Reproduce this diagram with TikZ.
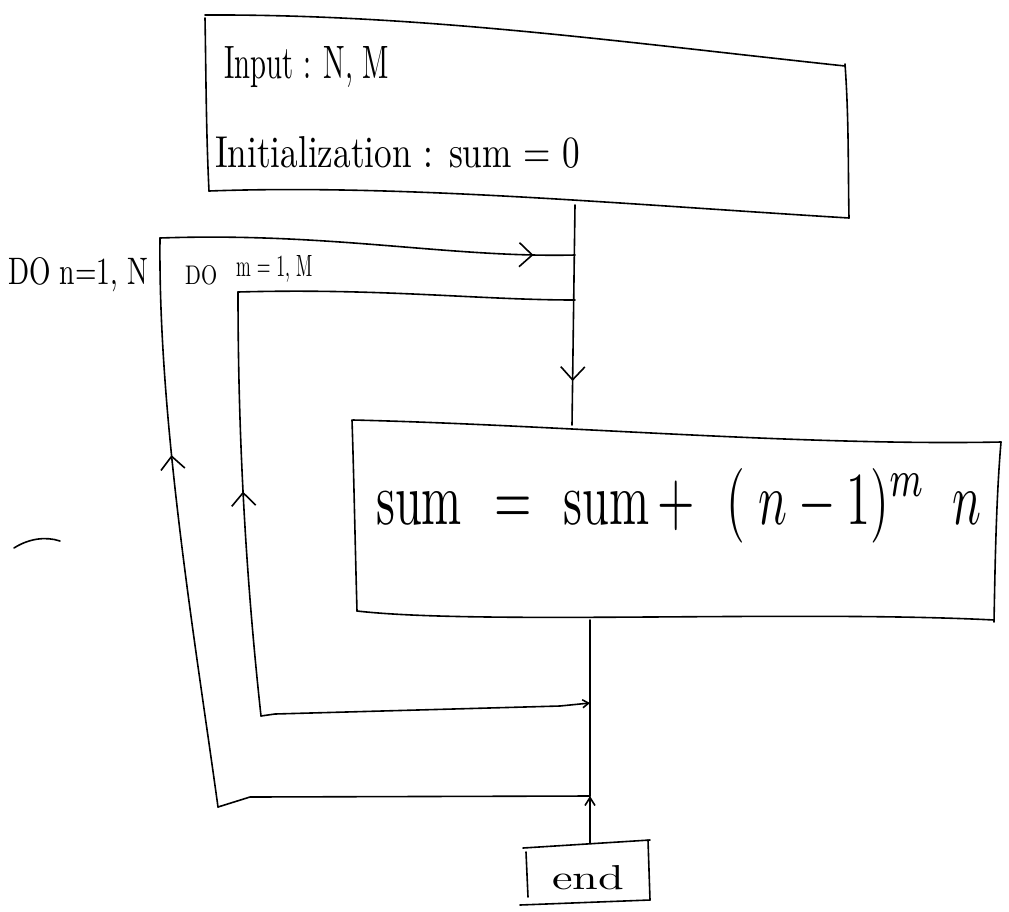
\documentclass[tikz,border=0pt]{standalone}
\usetikzlibrary{arrows.meta,decorations.markings}
\begin{document}
\begin{tikzpicture}[x=1pt,y=-1pt,
  pen/.style={line width=1.6pt, line cap=round, line join=round},
  barb/.tip={Straight Barb[length=13pt,width=24pt,line width=1.6pt]},
  midarrow/.style={postaction={decorate},
    decoration={markings, mark=at position #1 with {\arrow{barb}}}},
  txt/.style={inner sep=0pt, anchor=base west},
]
\useasboundingbox (0,0) rectangle (1009,911);

% ---- input box
\draw[pen] (205,15) .. controls (420,14) and (620,42) .. (845,66);
\draw[pen] (845,64) .. controls (849,120) and (848,170) .. (849,218);
\draw[pen] (849,218) .. controls (620,204) and (400,184) .. (209,191);
\draw[pen] (209,191) .. controls (206,130) and (206,70) .. (205,18);
\node[txt] (inp) at (224,78) {\resizebox{165pt}{32pt}{Input : N, M}};
\node[txt] (ini) at (215,167) {\resizebox{365pt}{31pt}{Initialization : sum = 0}};

% ---- update box
\draw[pen] (353,420) .. controls (560,425) and (800,446) .. (1001,442);
\draw[pen] (1001,442) .. controls (996,500) and (995,570) .. (994,622);
\draw[pen] (994,620) .. controls (800,610) and (480,625) .. (357,611);
\draw[pen] (357,611) .. controls (355,540) and (354,480) .. (352,420);
\node[txt] (upd) at (376,524)
  {\resizebox{605pt}{56pt}{sum\ \ $=$\ \ sum\,$+$\ \ $(\;n-1)^{m}\;\;n$}};

% ---- end box
\draw[pen] (523,848) -- (650,840);
\draw[pen] (526,852) -- (528,897);
\draw[pen] (520,905) -- (650,900);
\draw[pen] (648,840) -- (650,900);
\node[txt] (fin) at (552,889) {\resizebox{72pt}{24pt}{end}};

% ---- loop labels
\node[txt] (lbn) at (8,284) {\resizebox{140pt}{27pt}{DO n=1, N}};
\node[txt] (dom) at (185,284) {\resizebox{32pt}{19pt}{DO}};
\node[txt] (lbm) at (236,276) {\resizebox{76pt}{21pt}{m = 1, M}};

% ---- junction points on the flow lines
\coordinate (t1) at (575,205);
\coordinate (s1) at (572,425);
\coordinate (o1) at (160,238);
\coordinate (o2) at (575,255);
\coordinate (o3) at (218,807);
\coordinate (o4) at (590,796);
\coordinate (i1) at (238,292);
\coordinate (i2) at (575,300);
\coordinate (i3) at (261,716);
\coordinate (i4) at (590,703);
\coordinate (s2) at (590,620);
\coordinate (e1) at (590,843);

% ---- main flow
\draw[pen, midarrow=0.8] (t1) -- (s1);
\draw[pen] (s2) -- (o4);
\draw[pen, -{Straight Barb[length=8pt,width=10pt,line width=1.6pt]}] (e1) -- (o4);

% ---- outer loop
\draw[pen, midarrow=0.62] (o3) .. controls (195,640) and (158,420) .. (o1);
\draw[pen, midarrow=0.9] (o1) .. controls (330,232) and (450,258) .. (o2);
\draw[pen] (o3) -- (250,797) -- (o4);

% ---- inner loop
\draw[pen, midarrow=0.53] (i3) .. controls (244,560) and (238,420) .. (i1);
\draw[pen] (i1) .. controls (380,288) and (480,300) .. (i2);
\draw[pen, -{Straight Barb[length=6pt,width=8pt,line width=1.6pt]}] (i3) -- (275,714) -- (560,706) -- (i4);

% ---- stray pen stroke
\draw[pen] (14,548) .. controls (28,539) and (45,536) .. (60,541);
\end{tikzpicture}
\end{document}
